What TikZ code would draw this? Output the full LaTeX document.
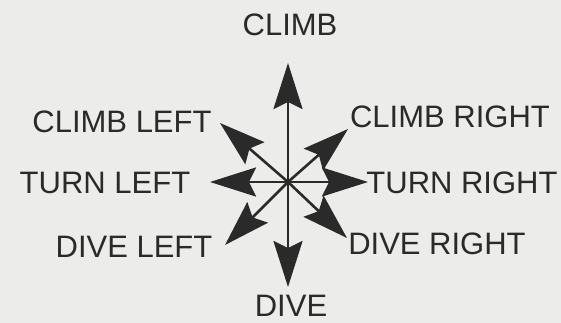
\documentclass[tikz,border=0pt]{standalone}
\usepackage{fontspec}
\setmainfont{Liberation Sans}
\usepackage{tikz}
\usetikzlibrary{arrows.meta}
\definecolor{paper}{HTML}{ECECEA}
\definecolor{ink}{HTML}{2A2A2A}

\begin{document}
\begin{tikzpicture}[
    x=1pt, y=-1pt,
    >={Stealth[length=46pt, width=29pt, inset=7pt]},
    move/.style={->, line width=2.6pt, draw=ink},
    command/.style={font=\fontsize{31}{33}\selectfont, text=ink, inner sep=0pt}
]

% ---------------------------------------------------------------- Page
\fill[paper] (0,0) rectangle (561,323);
\useasboundingbox (0,0) rectangle (561,323);

% ---------------------------------------------------------------- Stick
\coordinate (hub) at (288,182);
\coordinate (climb)      at (288, 63);
\coordinate (dive)       at (288,287);
\coordinate (turnleft)   at (210,182);
\coordinate (turnright)  at (368,182);
\coordinate (climbleft)  at (220,123);
\coordinate (climbright) at (348,129);
\coordinate (diveleft)   at (225,245);
\coordinate (diveright)  at (347,238);

\foreach \dir in {climb,dive,turnleft,turnright,climbleft,climbright,diveleft,diveright}
    \draw[move] (hub) -- (\dir);

% ---------------------------------------------------------------- Labels
\node[command] (lclimb)      at (290, 25) {CLIMB};
\node[command] (lclimbleft)  at (122,122) {CLIMB LEFT};
\node[command] (lclimbright) at (450,117) {CLIMB RIGHT};
\node[command] (lturnleft)   at (105,183) {TURN LEFT};
\node[command] (lturnright)  at (462,183) {TURN RIGHT};
\node[command] (ldiveleft)   at (134,247) {DIVE LEFT};
\node[command] (ldiveright)  at (437,244) {DIVE RIGHT};
\node[command] (ldive)       at (291,306) {DIVE};

\end{tikzpicture}
\end{document}
